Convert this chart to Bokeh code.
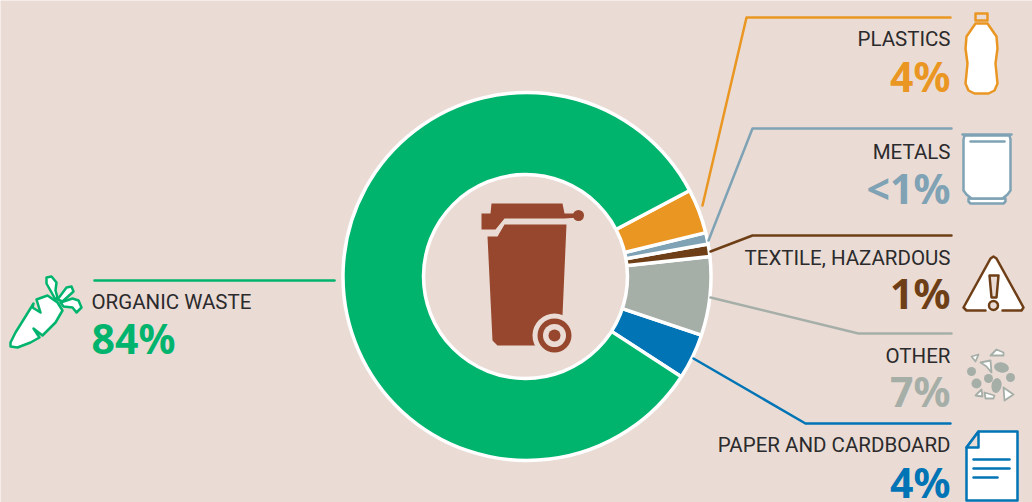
import numpy as np
from bokeh.plotting import figure
from bokeh.models import Range1d
from bokeh.core.properties import value
from bokeh.embed import file_html
from bokeh.resources import INLINE

# Data (counter-clockwise from the lower edge of "paper and cardboard")
categories = ["Paper and cardboard", "Other", "Textile, hazardous", "Metals", "Plastics", "Organic waste"]
shares = [4.0, 6.9, 1.1, 1.0, 3.9, 83.1]
labels = ["PAPER AND CARDBOARD", "OTHER", "TEXTILE, HAZARDOUS", "METALS", "PLASTICS", "ORGANIC WASTE"]
pct_labels = ["4%", "7%", "1%", "<1%", "4%", "84%"]

BG = "#EADCD5"
GREEN, ORANGE, STEEL, BROWN, GREY, BLUE = "#00B46E", "#EA9623", "#7FA2B4", "#6E3F17", "#A6AEA8", "#0074B5"
BIN = "#97472D"
DARK = "#2B2A2C"
colors = [BLUE, GREY, BROWN, STEEL, ORANGE, GREEN]

W, H = 1032, 502
p = figure(width=W, height=H, output_backend="svg", toolbar_location=None,
           x_range=Range1d(0, W), y_range=Range1d(-H, 0), min_border=0,
           background_fill_color=BG, border_fill_color=BG, outline_line_color=None)
p.axis.visible = False
p.grid.visible = False


def poly(pts, fill=None, line=None, lw=2.0):
    xs = [a for a, _ in pts]
    ys = [-b for _, b in pts]
    if fill:
        p.patch(xs, ys, fill_color=fill, line_color=line, line_width=lw if line else 0, line_join="round")
    elif line:
        p.line(xs, ys, line_color=line, line_width=lw, line_join="round", line_cap="round")


def circ(x, y, r, fill, line=None, lw=1.0):
    p.circle(x, -y, radius=r, fill_color=fill, line_color=line, line_width=lw)


def ell(x, y, rx, ry, fill, angle=0.0):
    p.ellipse(x, -y, width=2 * rx, height=2 * ry, angle=angle, fill_color=fill, line_color=None)


# Donut
CX, CY, R_OUT, R_IN = 526.5, 276.0, 184, 92
START = np.deg2rad(-33.0)
edges = START + np.cumsum([0] + shares) / sum(shares) * 2 * np.pi
p.annular_wedge(x=[CX] * 6, y=[-CY] * 6, inner_radius=R_IN, outer_radius=R_OUT,
                start_angle=edges[:-1], end_angle=edges[1:], fill_color=colors,
                line_color="white", line_width=3.5)
circ(525, 276, 102, BG, "white", 3.5)

# Leader lines
leaders = [
    ([(693, 358), (805, 423), (950, 423)], BLUE),
    ([(710, 297), (858, 333), (951, 333)], GREY),
    ([(710, 251), (752, 235), (951, 235)], BROWN),
    ([(708, 240), (752, 128), (951, 128)], STEEL),
    ([(702, 205), (746, 17), (950, 17)], ORANGE),
    ([(94, 280), (334, 280)], GREEN),
]
for pts, c in leaders:
    poly(pts, line=c, lw=2.5)

# Labels
text_x = [950, 950, 950, 950, 950, 91]
base_y = [444, 355, 257, 151, 38, 301]
pct_y = [481, 390, 292, 187, 75, 337]
aligns = ["right"] * 5 + ["left"]
LABEL_FONT, PCT_FONT = "Roboto", "Noto Sans"
for i in range(6):
    p.text([text_x[i]], [-base_y[i]], text=[labels[i]], text_font=value(LABEL_FONT), text_font_size="20.5px",
           text_color=DARK, text_align=aligns[i], text_baseline="alphabetic")
    p.text([text_x[i]], [-pct_y[i]], text=[pct_labels[i]], text_font=value(PCT_FONT), text_font_size="41px",
           text_font_style="bold", text_color=colors[i], text_align=aligns[i], text_baseline="alphabetic")

# Bin icon
poly([(481, 213), (490, 213), (491, 203), (562, 203), (564, 213), (576, 213), (578, 217), (564, 218),
      (504, 218), (495, 229), (481, 229)], fill=BIN)
circ(578, 215, 5.5, BIN)
poly([(487, 236), (497, 236), (504, 224), (566, 224), (562, 315), (540, 345), (497, 345), (492, 340)], fill=BIN)
circ(554, 335, 22, BG)
circ(554, 335, 17, BIN)
circ(554, 335, 11.5, BG)
circ(554, 335, 6, BIN)

# Bottle icon
poly([(975, 13), (987, 13), (987, 20), (975, 20)], fill=BG, line=ORANGE, lw=2.5)
poly([(975, 23), (987, 23), (996, 36), (997, 48), (995, 63), (997, 83), (994, 90), (988, 93), (974, 93),
      (968, 90), (965, 83), (967, 63), (965, 48), (966, 36)], fill="white", line=ORANGE, lw=2.5)

# Can icon
poly([(968, 198), (1005, 198), (1005, 201), (1003, 203), (970, 203), (968, 201)], fill="white", line=STEEL, lw=2.5)
poly([(964, 135), (1009, 135), (1010, 139), (1010, 190), (1007, 194), (1002, 198), (971, 198), (966, 194),
      (963, 190), (963, 139)], fill="white", line=STEEL, lw=2.5)
poly([(962, 134), (1011, 134)], line=STEEL, lw=2.5)
poly([(970, 141), (1004, 141)], line=STEEL, lw=2.5)

# Warning icon
poly([(993, 256), (1023, 308), (1021, 310), (965, 310), (963, 308)], fill="white")
poly([(985, 310), (966, 310), (963, 307), (990, 258), (993, 256), (996, 258), (1023, 307), (1021, 310), (1002, 310)],
     line=BROWN, lw=2.5)
poly([(989, 275), (998, 275), (996, 297), (991, 297)], fill=BG, line=BROWN, lw=2.5)
circ(993, 305, 4.5, BG, BROWN, 2.5)

# Rubble icon
for (x, y, rx, ry, a) in [(971, 371, 4.5, 4.5, 0), (1001, 367, 7.5, 5, -0.2), (988, 378, 4.5, 4.5, 0),
                          (976, 383, 5, 5, 0), (996, 385, 5, 7.5, -0.2), (1010, 377, 4.5, 4.5, 0)]:
    ell(x, y, rx, ry, GREY, a)
for tri in [[(971, 356), (978, 354), (975, 361)],
            [(990, 355), (996, 349), (1003, 352), (1003, 355)],
            [(980, 362), (990, 360), (991, 372), (986, 366)],
            [(975, 395), (981, 389), (982, 396)],
            [(984, 392), (994, 395), (993, 398), (985, 398)],
            [(1003, 387), (1013, 394), (1004, 400)]]:
    poly(tri, fill="white", line=GREY, lw=1.8)

# Paper icon
poly([(978, 431), (1017, 431), (1017, 500), (966, 500), (966, 447)], fill="white", line=BLUE, lw=2.5)
poly([(978, 431), (978, 447), (966, 447)], fill=BG, line=BLUE, lw=2.5)
for y0, x1 in [(459, 1009), (468, 1009), (477, 997)]:
    poly([(973, y0), (x1, y0)], line=BLUE, lw=2.5)

# Carrot icon
poly([(10, 342), (15, 332), (25, 316), (33, 303), (32, 307), (40, 312), (36, 299), (47, 295), (57, 302), (62, 310),
      (55, 322), (42, 335), (33, 328), (39, 337), (30, 342), (17, 347), (10, 346)],
     fill="white", line=GREEN, lw=2.5)
poly([(55, 299), (46, 283), (46, 277), (51, 276), (56, 282), (55, 290), (57, 297)], fill="white", line=GREEN, lw=2.5)
poly([(57, 299), (66, 287), (71, 286), (73, 291), (62, 301)], fill="white", line=GREEN, lw=2.5)
poly([(60, 302), (72, 298), (78, 300), (81, 307), (76, 312), (72, 307), (63, 306)], fill="white", line=GREEN, lw=2.5)

open("out.html", "w").write(file_html(p, INLINE))
